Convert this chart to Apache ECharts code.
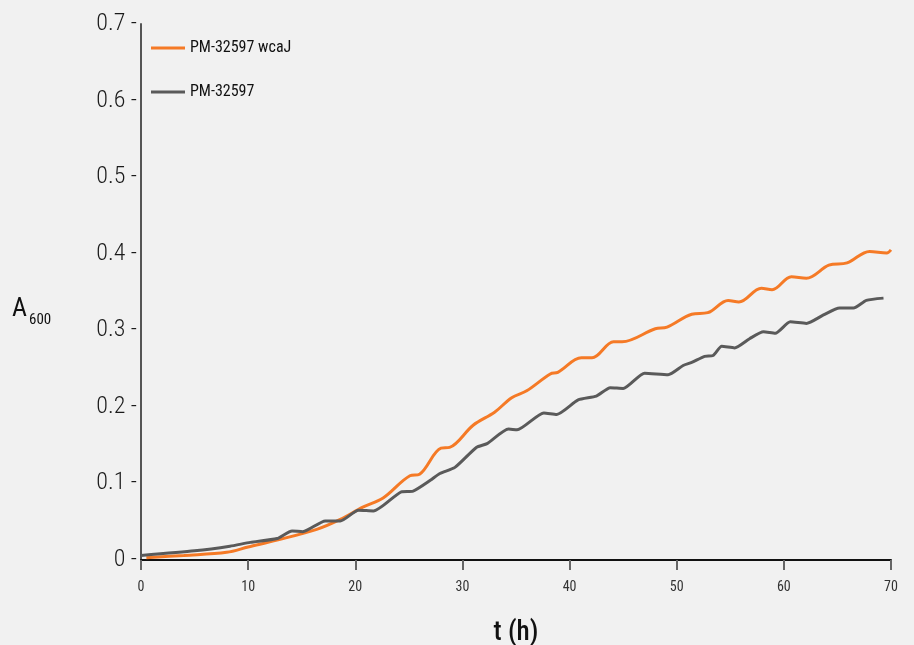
<!DOCTYPE html>
<html><head><meta charset="utf-8">
<script src="https://cdn.jsdelivr.net/npm/echarts@6/dist/echarts.min.js"></script>
<style>html,body{margin:0;padding:0;background:#f1f1f1}#c{width:914px;height:645px}</style>
</head><body><div id="c"></div>
<script>
const seriesNames = ['PM-32597 wcaJ', 'PM-32597'];
const tWcaJ = [0.5,4,8,10,12.7,16.4,18.6,20.7,22.6,25.1,26.0,28.0,28.8,31.0,33.0,34.6,36.0,38.2,38.9,41.1,42.1,44.1,44.9,48.0,49.1,51.4,52.9,54.8,55.8,57.9,58.9,60.7,62.1,64.2,65.9,68.0,69.6,70.0];
const vWcaJ = [0.003,0.006,0.010,0.017,0.026,0.040,0.053,0.069,0.081,0.110,0.112,0.146,0.147,0.176,0.193,0.212,0.221,0.243,0.245,0.264,0.264,0.285,0.285,0.302,0.304,0.321,0.323,0.339,0.337,0.355,0.353,0.370,0.368,0.385,0.388,0.403,0.401,0.405];
const tWT = [0,5,8.3,10.2,12.7,14.1,15.1,17.2,18.6,20.3,21.7,24.3,25.4,27.0,27.9,29.3,31.3,32.3,34.3,35.1,37.6,38.8,40.8,42.5,43.8,45.0,47.0,49.2,50.6,51.4,52.6,53.4,54.2,55.4,56.8,58.1,59.2,60.6,62.1,63.7,65.2,66.5,67.7,69.3];
const vWT = [0.006,0.012,0.018,0.023,0.028,0.038,0.037,0.051,0.051,0.065,0.064,0.089,0.090,0.104,0.113,0.121,0.147,0.152,0.171,0.170,0.192,0.190,0.209,0.214,0.225,0.224,0.244,0.242,0.254,0.258,0.266,0.267,0.279,0.277,0.289,0.298,0.296,0.311,0.309,0.320,0.329,0.329,0.339,0.342];
const xTicks = [0,10,20,30,40,50,60,70];
const yTicks = [0,0.1,0.2,0.3,0.4,0.5,0.6,0.7];

const FONT = '"Roboto Condensed","Liberation Sans Narrow","DejaVu Sans Condensed","Roboto",sans-serif';
const chart = echarts.init(document.getElementById('c'), null, {renderer:'canvas'});
chart.setOption({
  backgroundColor: '#f1f1f1',
  animation: false,
  grid: {left: 141, right: 23, top: 24, bottom: 85, containLabel: false, outerBoundsMode: 'none'},
  legend: {
    orient: 'vertical', left: 146, top: 34,
    itemWidth: 34, itemHeight: 3, itemGap: 26, itemTextGap: 12,
    icon: 'rect',
    textStyle: {fontFamily: FONT, fontSize: 16, color: '#111', lineHeight: 18},
    data: seriesNames
  },
  xAxis: {
    type: 'value', min: xTicks[0], max: xTicks[xTicks.length-1], interval: 10,
    splitLine: {show: false},
    axisLine: {show: true, onZero: false, lineStyle: {color: '#111', width: 2}},
    axisTick: {show: true, length: 10, lineStyle: {color: '#666', width: 2}},
    axisLabel: {fontFamily: FONT, fontSize: 14, color: '#333', margin: 20},
    name: 't (h)', nameLocation: 'middle', nameGap: 60,
    nameTextStyle: {fontFamily: FONT, fontSize: 27, color: '#111', fontWeight: 500}
  },
  yAxis: {
    type: 'value', min: yTicks[0], max: yTicks[yTicks.length-1], interval: 0.1,
    splitLine: {show: false},
    axisLine: {show: true, lineStyle: {color: '#555', width: 2}},
    axisTick: {show: false},
    axisLabel: {fontFamily: FONT, fontSize: 24, fontWeight: 300, color: '#1a1a1a', margin: 4,
      formatter: v => (Math.round(v*10)/10) + ' -'}
  },
  graphic: [
    {type: 'text', left: 12, top: 296,
     style: {text: 'A', fontFamily: FONT, fontSize: 26, fill: '#111'}},
    {type: 'text', left: 29, top: 313,
     style: {text: '600', fontFamily: FONT, fontSize: 15, fill: '#111'}}
  ],
  series: [
    {name: seriesNames[0], type: 'line', showSymbol: false, smooth: 0.35,
     color: '#f57a26', lineStyle: {width: 3, color: '#f57a26'},
     data: tWcaJ.map((t,i)=>[t, vWcaJ[i]])},
    {name: seriesNames[1], type: 'line', showSymbol: false, smooth: 0.2,
     color: '#5a5a5a', lineStyle: {width: 3, color: '#5a5a5a'},
     data: tWT.map((t,i)=>[t, vWT[i]])}
  ]
});
</script></body></html>
